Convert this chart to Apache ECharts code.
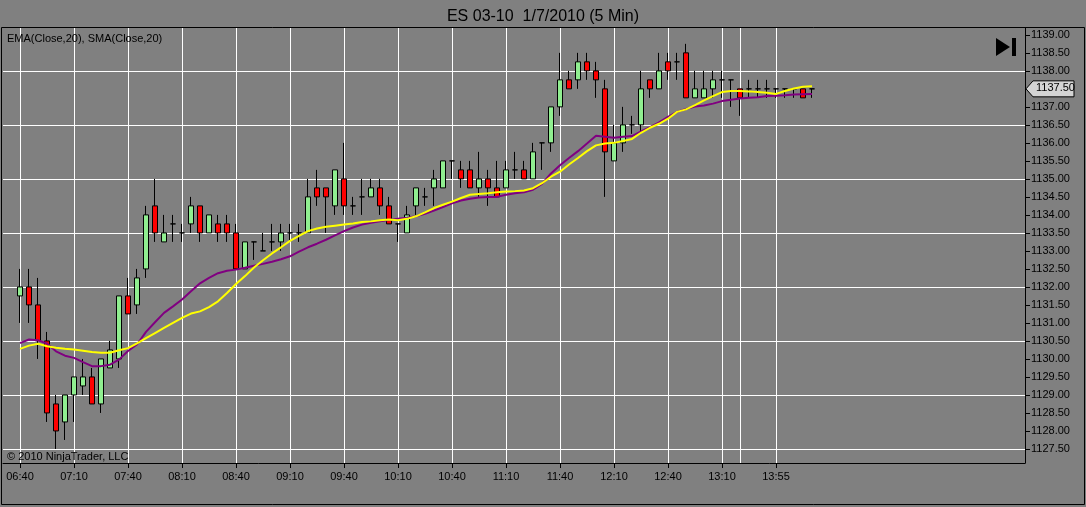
<!DOCTYPE html>
<html>
<head>
<meta charset="utf-8">
<title>ES 03-10 1/7/2010 (5 Min)</title>
<script src="https://cdn.jsdelivr.net/npm/echarts@6/dist/echarts.min.js"></script>
<style>
html, body { margin: 0; padding: 0; background: #808080; }
#chart { width: 1086px; height: 507px; }
</style>
</head>
<body>
<div id="chart"></div>
<script>
// 5 min bars
var opens = [
    1131.75, 1132.0, 1131.5, 1130.5, 1128.75, 1128.25, 1129.0, 1129.25, 1129.5, 1128.75,
    1129.75, 1130.0, 1131.75, 1131.5, 1132.5, 1134.25, 1133.25, 1133.75, 1133.5, 1133.75,
    1134.25, 1133.5, 1133.75, 1133.75, 1133.5, 1132.5, 1133.25, 1133.0, 1133.25, 1133.25,
    1133.5, 1133.5, 1133.5, 1134.75, 1134.75, 1134.25, 1135.0, 1134.25, 1134.5, 1134.5,
    1134.75, 1134.25, 1133.75, 1133.5, 1134.25, 1134.5, 1134.75, 1134.75, 1135.5, 1135.25,
    1135.25, 1134.75, 1135.0, 1134.75, 1134.75, 1135.25, 1135.25, 1135.0, 1136.0, 1136.0,
    1137.0, 1137.75, 1137.75, 1138.25, 1138.0, 1137.5, 1135.5, 1136.0, 1136.5, 1136.5,
    1137.75, 1137.5, 1138.25, 1138.25, 1138.5, 1137.25, 1137.25, 1137.5, 1137.75, 1137.75,
    1137.5, 1137.5, 1137.5, 1137.5, 1137.5, 1137.5, 1137.5, 1137.5, 1137.5
];
var highs = [
    1132.5, 1132.5, 1132.25, 1130.75, 1129.0, 1129.0, 1129.5, 1130.0, 1129.75, 1130.0,
    1130.5, 1131.75, 1132.25, 1132.5, 1134.25, 1135.0, 1134.0, 1134.0, 1133.75, 1134.5,
    1134.25, 1134.0, 1134.0, 1134.0, 1133.75, 1133.25, 1133.25, 1133.5, 1133.75, 1133.75,
    1133.75, 1133.75, 1135.0, 1135.25, 1134.75, 1135.25, 1136.0, 1134.5, 1135.0, 1135.0,
    1135.0, 1134.5, 1133.75, 1134.25, 1134.75, 1134.75, 1135.25, 1135.5, 1135.5, 1135.5,
    1135.5, 1135.75, 1135.25, 1135.5, 1135.5, 1135.75, 1135.5, 1136.0, 1136.0, 1137.0,
    1138.5, 1138.0, 1138.5, 1138.5, 1138.25, 1137.75, 1136.5, 1137.0, 1136.75, 1138.0,
    1137.75, 1138.5, 1138.5, 1138.5, 1138.75, 1138.0, 1138.0, 1138.0, 1138.0, 1137.75,
    1137.5, 1137.75, 1137.75, 1137.75, 1137.5, 1137.5, 1137.5, 1137.5, 1137.5
];
var lows = [
    1131.0, 1131.0, 1130.0, 1128.25, 1127.5, 1127.75, 1128.25, 1129.0, 1128.75, 1128.5,
    1129.75, 1129.75, 1131.25, 1131.25, 1132.25, 1133.25, 1133.25, 1133.25, 1133.25, 1133.5,
    1133.25, 1133.5, 1133.25, 1133.25, 1132.5, 1132.5, 1132.75, 1133.0, 1133.0, 1133.0,
    1133.25, 1133.25, 1133.5, 1134.25, 1133.5, 1134.0, 1134.0, 1134.0, 1134.0, 1134.5,
    1134.0, 1133.75, 1133.25, 1133.5, 1134.0, 1134.25, 1134.25, 1134.75, 1135.0, 1134.75,
    1134.75, 1134.5, 1134.25, 1134.5, 1134.75, 1135.0, 1135.0, 1135.0, 1135.25, 1135.75,
    1136.75, 1137.5, 1137.5, 1137.75, 1137.25, 1134.5, 1135.5, 1135.75, 1136.25, 1136.25,
    1137.25, 1137.5, 1137.75, 1137.75, 1137.25, 1137.25, 1137.25, 1137.25, 1137.25, 1137.0,
    1136.75, 1137.25, 1137.25, 1137.25, 1137.25, 1137.25, 1137.25, 1137.25, 1137.25
];
var closes = [
    1132.0, 1131.5, 1130.5, 1128.5, 1128.0, 1129.0, 1129.5, 1129.5, 1128.75, 1130.0,
    1130.25, 1131.75, 1131.25, 1132.25, 1134.0, 1133.5, 1133.5, 1133.75, 1133.5, 1134.25,
    1133.5, 1134.0, 1133.5, 1133.5, 1132.5, 1133.25, 1133.25, 1133.0, 1133.25, 1133.5,
    1133.5, 1133.5, 1134.5, 1134.5, 1134.5, 1135.25, 1134.25, 1134.25, 1134.5, 1134.75,
    1134.25, 1133.75, 1133.75, 1134.0, 1134.75, 1134.5, 1135.0, 1135.5, 1135.5, 1135.0,
    1134.75, 1135.0, 1134.75, 1134.5, 1135.25, 1135.25, 1135.0, 1135.75, 1136.0, 1137.0,
    1137.75, 1137.5, 1138.25, 1138.0, 1137.75, 1135.75, 1136.0, 1136.5, 1136.5, 1137.5,
    1137.5, 1138.0, 1138.0, 1138.25, 1137.25, 1137.5, 1137.5, 1137.75, 1137.75, 1137.75,
    1137.25, 1137.5, 1137.5, 1137.5, 1137.5, 1137.5, 1137.5, 1137.25, 1137.5
];
// indicator lines as plotted
var ema20 = [
    1130.28, 1130.37, 1130.42, 1130.35, 1130.31, 1130.28, 1130.26, 1130.23, 1130.19, 1130.17,
    1130.17, 1130.24, 1130.30, 1130.43, 1130.58, 1130.72, 1130.86, 1131.00, 1131.14, 1131.26,
    1131.32, 1131.44, 1131.60, 1131.83, 1132.08, 1132.30, 1132.54, 1132.74, 1132.93, 1133.10,
    1133.28, 1133.42, 1133.55, 1133.62, 1133.67, 1133.70, 1133.73, 1133.76, 1133.80, 1133.82,
    1133.85, 1133.87, 1133.85, 1133.89, 1133.96, 1134.07, 1134.19, 1134.28, 1134.37, 1134.47,
    1134.56, 1134.58, 1134.60, 1134.63, 1134.65, 1134.66, 1134.68, 1134.74, 1134.88, 1135.06,
    1135.20, 1135.40, 1135.58, 1135.77, 1135.93, 1135.98, 1136.00, 1136.05, 1136.11, 1136.28,
    1136.42, 1136.53, 1136.67, 1136.86, 1136.93, 1137.05, 1137.18, 1137.30, 1137.41, 1137.44,
    1137.44, 1137.43, 1137.41, 1137.39, 1137.36, 1137.44, 1137.51, 1137.56, 1137.57
];
var sma20 = [
    1130.44, 1130.54, 1130.52, 1130.43, 1130.21, 1130.09, 1130.03, 1129.91, 1129.80, 1129.80,
    1129.84, 1129.98, 1130.22, 1130.40, 1130.75, 1131.02, 1131.28, 1131.46, 1131.65, 1131.88,
    1132.10, 1132.25, 1132.38, 1132.45, 1132.48, 1132.53, 1132.59, 1132.64, 1132.70, 1132.77,
    1132.85, 1132.98, 1133.10, 1133.20, 1133.31, 1133.43, 1133.55, 1133.65, 1133.73, 1133.78,
    1133.82, 1133.86, 1133.89, 1133.92, 1133.96, 1134.03, 1134.12, 1134.22, 1134.32, 1134.40,
    1134.45, 1134.48, 1134.50, 1134.50, 1134.56, 1134.60, 1134.63, 1134.70, 1134.86, 1135.15,
    1135.38, 1135.58, 1135.77, 1135.98, 1136.20, 1136.17, 1136.14, 1136.17, 1136.19, 1136.32,
    1136.44, 1136.57, 1136.72, 1136.86, 1136.94, 1137.01, 1137.04, 1137.09, 1137.16, 1137.20,
    1137.23, 1137.25, 1137.27, 1137.30, 1137.31, 1137.32, 1137.34, 1137.35, 1137.36
];
var tickBars = [0, 6, 12, 18, 24, 30, 36, 42, 48, 54, 60, 66, 72, 78, 84];
var tickLabels = ['06:40', '07:10', '07:40', '08:10', '08:40', '09:10', '09:40', '10:10',
    '10:40', '11:10', '11:40', '12:10', '12:40', '13:10', '13:55'];
var gridBars = [0, 6, 12, 18, 24, 30, 36, 42, 48, 54, 60, 66, 72, 78, 80, 84];
var priceLabels = [1127.5, 1128, 1128.5, 1129, 1129.5, 1130, 1130.5, 1131, 1131.5, 1132,
    1132.5, 1133, 1133.5, 1134, 1134.5, 1135, 1135.5, 1136, 1136.5, 1137, 1137.5, 1138,
    1138.5, 1139];
var gridPrices = [1127.5, 1129, 1130.5, 1132, 1133.5, 1135, 1136.5, 1138];

var FONT = 'Liberation Sans, Arial, sans-serif';

var candles = [];
var emaLine = [];
var smaLine = [];
for (var i = 0; i < closes.length; i++) {
    candles.push([i, opens[i], closes[i], lows[i], highs[i]]);
    emaLine.push([i, ema20[i]]);
    smaLine.push([i, sma20[i]]);
}

var gridMarks = [];
for (var g = 0; g < gridBars.length; g++) {
    gridMarks.push({xAxis: gridBars[g]});
}
for (var g = 0; g < gridPrices.length; g++) {
    gridMarks.push({yAxis: gridPrices[g]});
}

var staticGraphics = [
    {
        type: 'rect', id: 'frame', silent: true, z: 100,
        shape: {x: 1.5, y: 27.5, width: 1083, height: 477},
        style: {fill: null, stroke: '#000', lineWidth: 1}
    },
    {
        type: 'text', id: 'ind', left: 7, top: 33, silent: true, z: 100,
        style: {text: 'EMA(Close,20), SMA(Close,20)', font: '11px ' + FONT, fill: '#000'}
    },
    {
        type: 'text', id: 'copy', left: 7, top: 451, silent: true, z: 100,
        style: {text: '\u00a9 2010 NinjaTrader, LLC', font: '11px ' + FONT, fill: '#000'}
    },
    {
        type: 'polygon', id: 'play', silent: true, z: 100,
        shape: {points: [[996, 38], [1010, 47], [996, 56]]},
        style: {fill: '#000'}
    },
    {
        type: 'rect', id: 'playbar', silent: true, z: 100,
        shape: {x: 1012, y: 38, width: 4, height: 18},
        style: {fill: '#000'}
    }
];

var myChart = echarts.init(document.getElementById('chart'));
var option = {
    animation: false,
    backgroundColor: '#808080',
    textStyle: {fontFamily: FONT},
    title: {
        text: 'ES 03-10  1/7/2010 (5 Min)',
        left: 'center',
        top: 4,
        textStyle: {fontSize: 16, fontWeight: 'normal', color: '#000', fontFamily: FONT}
    },
    grid: {left: 3, right: 61, top: 28, bottom: 44},
    xAxis: {
        type: 'value',
        min: -1.889,
        max: 111.667,
        axisLine: {show: true, onZero: false, lineStyle: {color: '#000', width: 1}},
        axisTick: {show: true, customValues: tickBars, length: 5, lineStyle: {color: '#000'}},
        axisLabel: {
            customValues: tickBars,
            color: '#000',
            fontSize: 11,
            margin: 8,
            fontFamily: FONT,
            formatter: function (v) {
                var k = tickBars.indexOf(Math.round(v));
                return k < 0 ? '' : tickLabels[k];
            }
        },
        splitLine: {show: false}
    },
    yAxis: {
        type: 'value',
        position: 'right',
        min: 1127.11,
        max: 1139.19,
        axisLine: {show: true, onZero: false, lineStyle: {color: '#000', width: 1}},
        axisTick: {show: true, customValues: priceLabels, length: 5, lineStyle: {color: '#000'}},
        axisLabel: {
            customValues: priceLabels,
            color: '#000',
            fontSize: 11,
            margin: 6,
            fontFamily: FONT,
            formatter: function (v) { return v.toFixed(2); }
        },
        splitLine: {show: false}
    },
    series: [
        {
            name: 'ES 03-10',
            type: 'candlestick',
            data: candles,
            encode: {x: 0, y: [1, 2, 3, 4]},
            barWidth: 6,
            z: 2,
            itemStyle: {
                color: '#90EE90',
                color0: '#FF0000',
                borderColor: '#000',
                borderColor0: '#000',
                borderColorDoji: '#000',
                borderWidth: 1
            },
            markLine: {
                silent: true,
                symbol: 'none',
                z: 1,
                animation: false,
                label: {show: false},
                lineStyle: {color: '#ffffff', width: 1, type: 'solid'},
                emphasis: {disabled: true},
                data: gridMarks
            }
        },
        {
            name: 'SMA(Close,20)',
            type: 'line',
            data: smaLine,
            showSymbol: false,
            z: 3,
            lineStyle: {color: '#800080', width: 2}
        },
        {
            name: 'EMA(Close,20)',
            type: 'line',
            data: emaLine,
            showSymbol: false,
            z: 4,
            lineStyle: {color: '#FFFF00', width: 2}
        }
    ],
    graphic: staticGraphics
};
myChart.setOption(option, true);

// last price marker on the price axis
var lastClose = closes[closes.length - 1];
var py = myChart.convertToPixel({yAxisIndex: 0}, lastClose);
var px = myChart.convertToPixel({xAxisIndex: 0}, 111.667);
myChart.setOption({
    graphic: staticGraphics.concat([
        {
            type: 'polygon', id: 'lastbox', silent: true, z: 110,
            shape: {points: [[px + 1, py], [px + 8, py - 8], [px + 49, py - 8], [px + 49, py + 8], [px + 8, py + 8]]},
            style: {fill: '#D4D4D4', stroke: '#000', lineWidth: 1}
        },
        {
            type: 'text', id: 'lasttxt', silent: true, z: 111,
            x: px + 11, y: py - 6,
            style: {text: lastClose.toFixed(2), font: '11px ' + FONT, fill: '#000'}
        }
    ])
});
</script>
</body>
</html>
